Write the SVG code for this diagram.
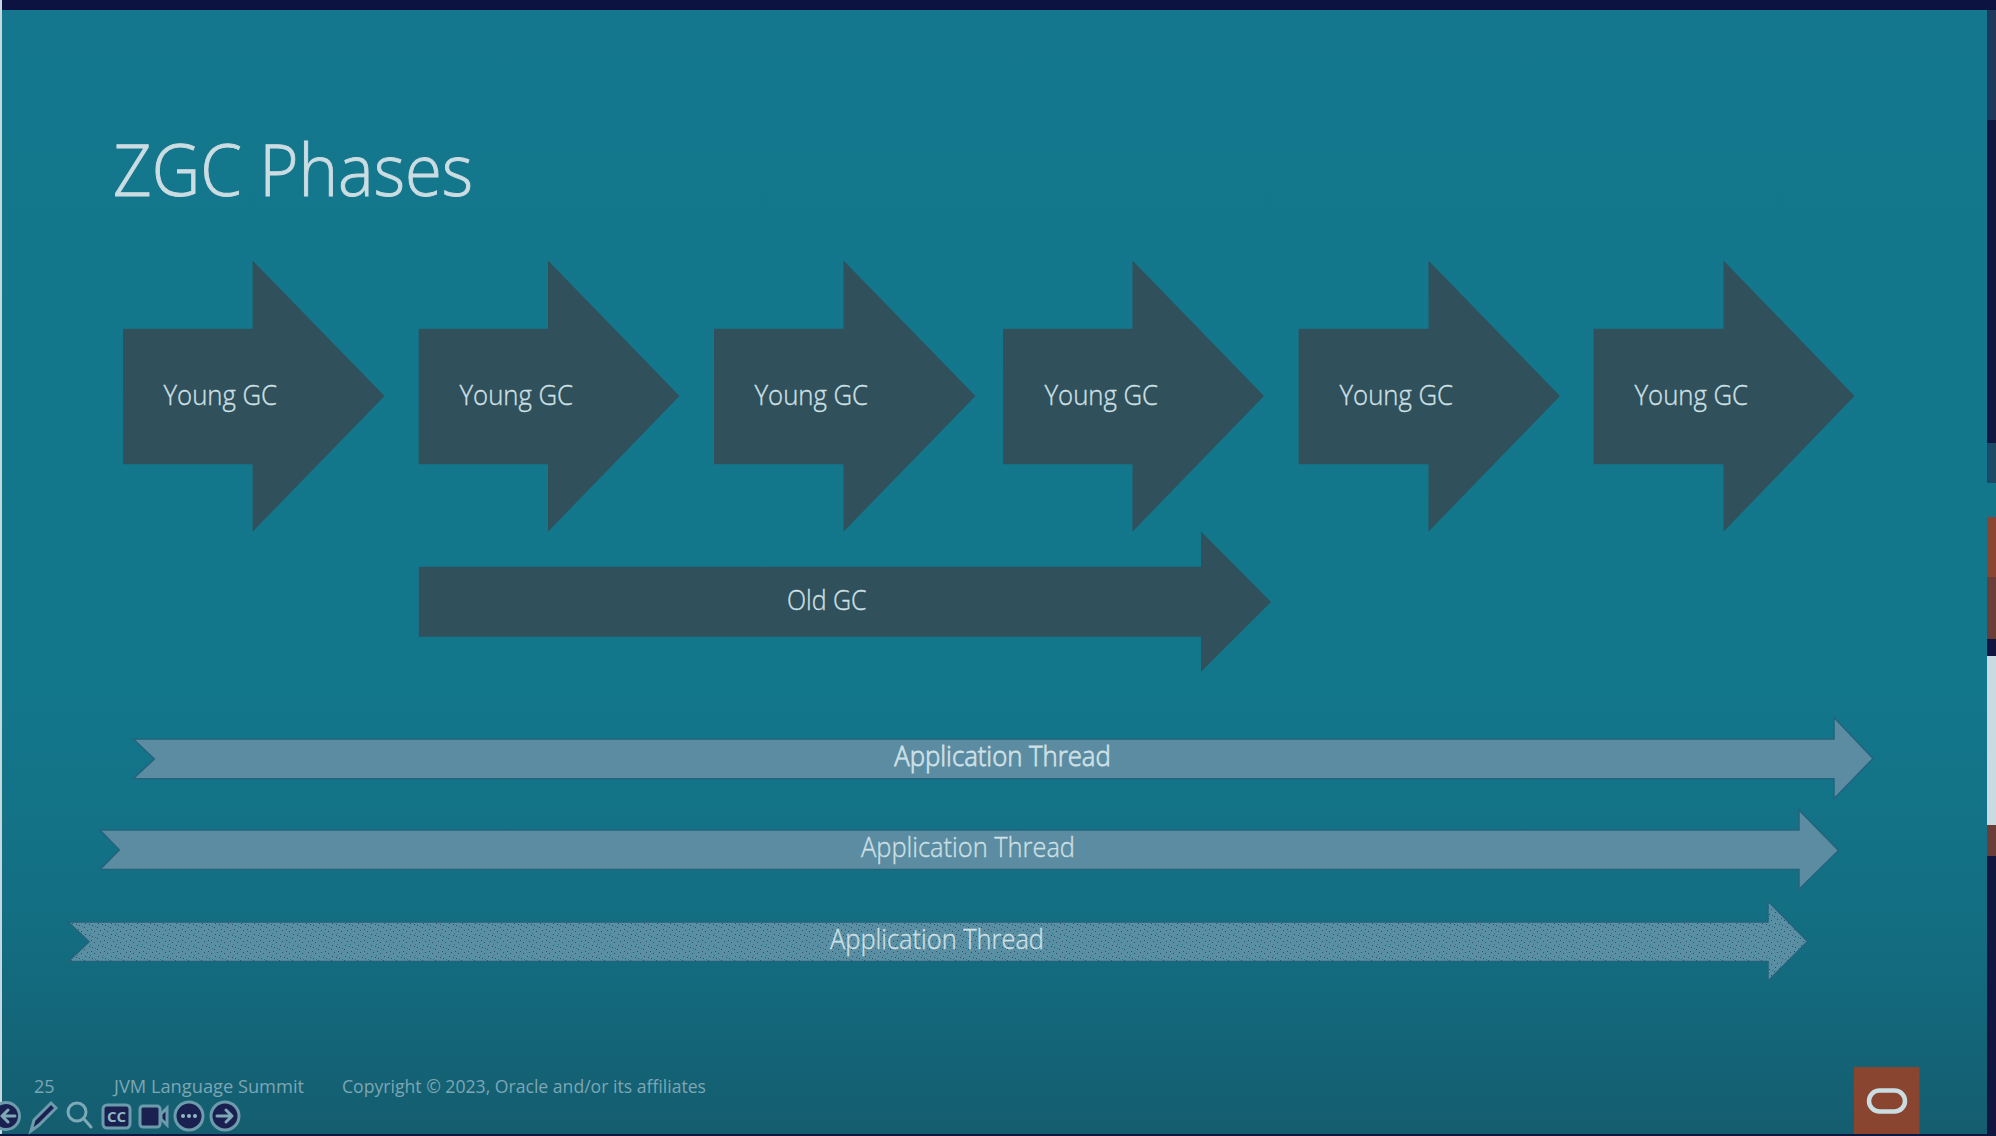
<svg xmlns="http://www.w3.org/2000/svg" width="1996" height="1136" viewBox="0 0 1996 1136">
<defs>
<linearGradient id="bg" x1="0" y1="0" x2="0" y2="1"><stop offset="0" stop-color="#14778d"/><stop offset="0.6" stop-color="#13778c"/><stop offset="0.8" stop-color="#136f83"/><stop offset="1" stop-color="#145d6f"/></linearGradient>
<pattern id="speckle" width="13" height="11" patternUnits="userSpaceOnUse">
<rect width="13" height="11" fill="#5a8ea2"/>
<g fill="#2c5269"><rect x="1" y="1" width="1" height="1"/><rect x="6" y="3" width="1" height="1"/><rect x="11" y="0" width="1" height="1"/><rect x="3" y="7" width="1" height="1"/><rect x="9" y="6" width="1" height="1"/><rect x="7" y="10" width="1" height="1"/><rect x="0" y="5" width="1" height="1"/></g>
<g fill="#1c7c92"><rect x="12" y="9" width="1" height="1"/><rect x="4" y="2" width="1" height="1"/></g>
</pattern>
</defs>
<style>
.sans{font-family:"Open Sans","Noto Sans","Liberation Sans",sans-serif}
.gc{fill:#30505c}
.label{fill:#cfe0e5;font-size:28px;font-weight:300;stroke:#cfe0e5;stroke-width:0.350}
.thread{fill:#5b8ca2;stroke:#23647c;stroke-width:1.500}
.foot{fill:#7da6b5;font-size:18px;font-weight:400}
.icon{fill:#1a2150;stroke:#6c9cac;stroke-width:3}
.glyph{fill:none;stroke:#7fa9b7;stroke-width:3;stroke-linecap:round;stroke-linejoin:round}
</style>
<rect width="1996" height="1136" fill="url(#bg)"/>
<!-- window edges around the slide -->
<g id="frame">
<rect width="1996" height="10" fill="#0c1340"/>
<rect width="2" height="1136" fill="#c5d8de"/>
<rect y="1134" width="1996" height="2" fill="#0f1640"/>
<rect x="1987" y="10" width="9" height="110" fill="#1b3a5c"/>
<rect x="1987" y="120" width="9" height="323" fill="#10163f"/>
<rect x="1987" y="443" width="9" height="40" fill="#1a4a66"/>
<rect x="1987" y="517" width="9" height="619" fill="#10163f"/>
<rect x="1987" y="517" width="9" height="60" fill="#8a4530"/>
<rect x="1987" y="577" width="9" height="62" fill="#6b3d38"/>
<rect x="1987" y="656" width="9" height="169" fill="#c9dbe0"/>
<rect x="1987" y="825" width="9" height="31" fill="#6b3d38"/>
</g>
<text id="title" class="sans" x="113" y="196" font-size="71" font-weight="300" fill="#cbdde2" stroke="#cbdde2" stroke-width="0.900" textLength="360" lengthAdjust="spacingAndGlyphs">ZGC Phases</text>
<g id="young-1"><path class="gc" d="M123 328.700H252.600V260.500L384.500 396 252.600 531.700V464.300H123Z"/><text class="sans label" x="163.500" y="405" textLength="113.500" lengthAdjust="spacingAndGlyphs">Young GC</text></g>
<g id="young-2"><path class="gc" d="M418.700 328.700H548V260.500L679.500 396 548 531.700V464.300H418.700Z"/><text class="sans label" x="459.500" y="405" textLength="113.500" lengthAdjust="spacingAndGlyphs">Young GC</text></g>
<g id="young-3"><path class="gc" d="M714 328.700H843.500V260.500L975.500 396 843.500 531.700V464.300H714Z"/><text class="sans label" x="754.500" y="405" textLength="113.500" lengthAdjust="spacingAndGlyphs">Young GC</text></g>
<g id="young-4"><path class="gc" d="M1003 328.700H1132.500V260.500L1264 396 1132.500 531.700V464.300H1003Z"/><text class="sans label" x="1044.500" y="405" textLength="113.500" lengthAdjust="spacingAndGlyphs">Young GC</text></g>
<g id="young-5"><path class="gc" d="M1298.600 328.700H1428.500V260.500L1560 396 1428.500 531.700V464.300H1298.600Z"/><text class="sans label" x="1339.500" y="405" textLength="113.500" lengthAdjust="spacingAndGlyphs">Young GC</text></g>
<g id="young-6"><path class="gc" d="M1593.600 328.700H1723.500V260.500L1854.500 396 1723.500 531.700V464.300H1593.600Z"/><text class="sans label" x="1634.500" y="405" textLength="113.500" lengthAdjust="spacingAndGlyphs">Young GC</text></g>
<g id="old-gc"><path class="gc" d="M418.800 566.700H1201V531.500L1271 602 1201 671.700V636.700H418.800Z"/><text class="sans label" x="787" y="610" textLength="79.500" lengthAdjust="spacingAndGlyphs">Old GC</text></g>
<g id="thread-1"><path class="thread" d="M133.300 739H1834V717.500L1873 758.500 1834 798.700V778.700H133.300L154.300 759Z"/><text class="sans label" style="stroke-width:0.800" x="894.300" y="765.500" textLength="216.400" lengthAdjust="spacingAndGlyphs">Application Thread</text></g>
<g id="thread-2"><path class="thread" d="M100 830H1799V810L1838.500 850.500 1799 889.300V869.500H100L119.300 850Z"/><text class="sans label" x="861" y="857" textLength="214" lengthAdjust="spacingAndGlyphs">Application Thread</text></g>
<g id="thread-3"><path class="thread" style="fill:url(#speckle)" d="M68.300 922H1768V901L1807.500 941.500 1768 981V961.500H68.300L89 941.700Z"/><text class="sans label" x="830" y="949" textLength="214" lengthAdjust="spacingAndGlyphs">Application Thread</text></g>
<g id="footer">
<text class="sans foot" x="34" y="1093">25</text>
<text class="sans foot" x="114" y="1093" textLength="190" lengthAdjust="spacingAndGlyphs">JVM Language Summit</text>
<text class="sans foot" x="342" y="1093" textLength="364" lengthAdjust="spacingAndGlyphs">Copyright © 2023, Oracle and/or its affiliates</text>
</g>
<g id="oracle-logo"><rect x="1854" y="1067" width="65.500" height="67" fill="#8a4530"/><rect x="1869" y="1090.500" width="36" height="21" rx="10.500" fill="none" stroke="#c9dde2" stroke-width="4.500"/></g>
<g id="toolbar">
<circle class="icon" cx="6" cy="1116" r="13.500"/><path class="glyph" d="M15 1116H2M8 1110L2 1116 8 1122"/>
<path class="icon" d="M31 1131L34 1120 51 1103 56 1108 39 1125Z"/>
<circle class="glyph" cx="77" cy="1112" r="9"/><path class="glyph" stroke-width="4.500" d="M84 1119L91 1127"/>
<rect class="icon" x="103" y="1105" width="27" height="23" rx="4"/><text class="sans" x="116.500" y="1122" font-size="15" font-weight="700" fill="#8fb7c4" text-anchor="middle">CC</text>
<rect class="icon" x="140" y="1106" width="20" height="21" rx="3"/><path class="icon" d="M161 1114L167 1108V1125L161 1119Z"/>
<circle class="icon" cx="189" cy="1116" r="14"/><g fill="#8fb7c4"><circle cx="183" cy="1116" r="2"/><circle cx="189" cy="1116" r="2"/><circle cx="195" cy="1116" r="2"/></g>
<circle class="icon" cx="225" cy="1116" r="14"/><path class="glyph" d="M217 1116H232M226 1110L232 1116 226 1122"/>
</g>
</svg>
